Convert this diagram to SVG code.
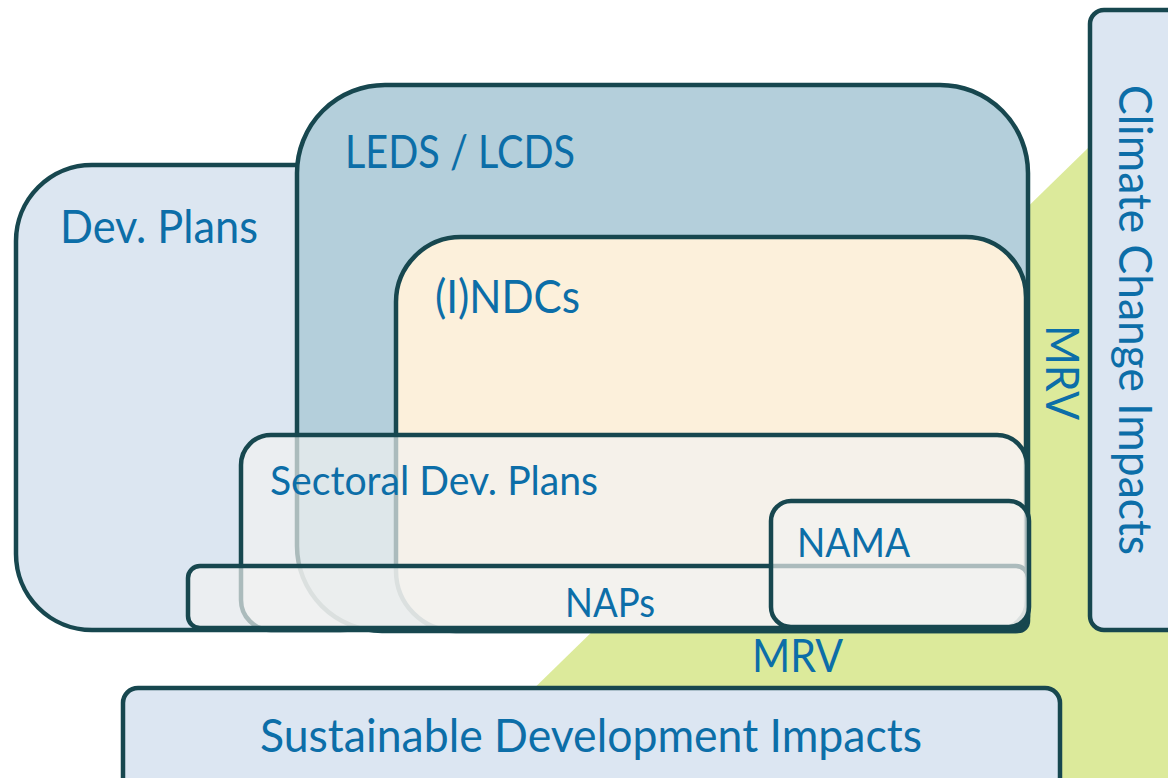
<svg xmlns="http://www.w3.org/2000/svg" width="1168" height="778" viewBox="0 0 1168 778">
<style>
.box{stroke:#17474f;stroke-width:4.5;stroke-linejoin:round}
.lbl{font-family:Lato,"Open Sans","Liberation Sans",sans-serif;fill:#0c6ea8}
.big{font-size:46px}
.small{font-size:41px}
.glass{fill:#f2f2f0;fill-opacity:0.68}
</style>
<rect width="1168" height="778" fill="#ffffff"/>
<polygon id="mrv-area" points="442,778 1168,70 1168,778" fill="#dcea9b"/>
<g id="dev-plans">
<rect class="box" x="16" y="165" width="400" height="465" rx="76" fill="#dce6f1"/>
<text class="lbl big" x="60" y="243" textLength="198" lengthAdjust="spacingAndGlyphs">Dev. Plans</text>
</g>
<g id="leds">
<path class="box" fill="#b4cfdb" d="M385 85 H940 A88 88 0 0 1 1028 173 V621 A10 10 0 0 1 1018 631 H382 A85 85 0 0 1 297 546 V173 A88 88 0 0 1 385 85 Z"/>
<text class="lbl big" x="345" y="168" textLength="230" lengthAdjust="spacingAndGlyphs">LEDS / LCDS</text>
</g>
<g id="ndcs">
<path class="box" fill="#fcf0db" d="M461 237 H966 A60 60 0 0 1 1026 297 V621 A10 10 0 0 1 1016 631 H456 A60 60 0 0 1 396 571 V302 A65 65 0 0 1 461 237 Z"/>
<text class="lbl big" x="435" y="313" textLength="145" lengthAdjust="spacingAndGlyphs">(I)NDCs</text>
</g>
<g id="sectoral">
<rect class="box glass" x="241" y="435" width="786" height="195" rx="30"/>
<text class="lbl small" x="270" y="495" textLength="328" lengthAdjust="spacingAndGlyphs">Sectoral Dev. Plans</text>
</g>
<g id="naps">
<rect class="box glass" x="188" y="566" width="840" height="62" rx="12"/>
<text class="lbl small" x="565" y="617" textLength="90" lengthAdjust="spacingAndGlyphs">NAPs</text>
</g>
<g id="nama">
<rect class="box glass" x="771" y="501" width="258" height="126" rx="20"/>
<text class="lbl small" x="797" y="557" textLength="113" lengthAdjust="spacingAndGlyphs">NAMA</text>
</g>
<g id="climate">
<rect class="box" x="1090" y="10" width="100" height="620" rx="14" fill="#dce6f2"/>
<text class="lbl big" transform="translate(1119,85) rotate(90)" textLength="470" lengthAdjust="spacingAndGlyphs">Climate Change Impacts</text>
</g>
<g id="sustainable">
<rect class="box" x="123" y="688" width="937" height="110" rx="15" fill="#dce6f2"/>
<text class="lbl big" x="260" y="752" textLength="662" lengthAdjust="spacingAndGlyphs">Sustainable Development Impacts</text>
</g>
<g id="mrv-labels">
<text class="lbl big" x="752" y="672" textLength="91" lengthAdjust="spacingAndGlyphs">MRV</text>
<text class="lbl big" transform="translate(1046,325) rotate(90)" textLength="95" lengthAdjust="spacingAndGlyphs">MRV</text>
</g>
<g id="connectors"></g>
</svg>
